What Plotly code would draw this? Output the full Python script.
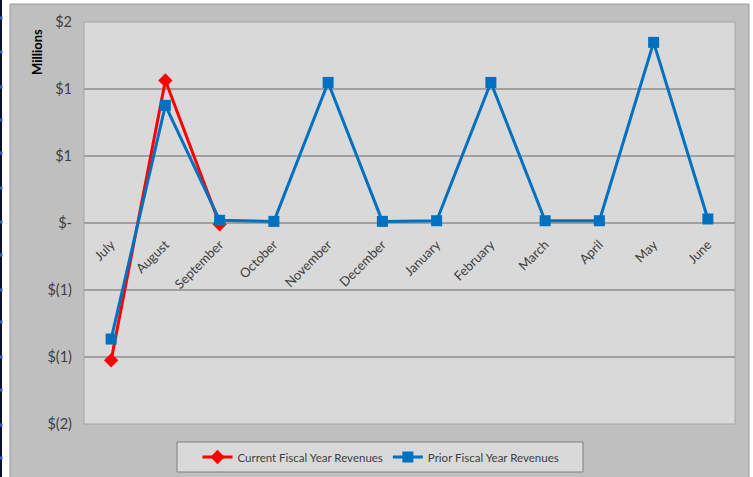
import plotly.graph_objects as go

months = ["July", "August", "September", "October", "November", "December",
          "January", "February", "March", "April", "May", "June"]
current_rev = [-1.025, 1.064, -0.01]
prior_rev = [-0.866, 0.878, 0.02, 0.012, 1.049, 0.012, 0.017, 1.049, 0.017, 0.017, 1.348, 0.03]
y_tickvals = [-1.5, -1.0, -0.5, 0.0, 0.5, 1.0, 1.5]
y_ticktext = ["$(2)", "$(1)", "$(1)", "$-", "$1", "$1", "$2"]

W, H = 753, 477
L, R, T, B = 84, 18, 22, 53
pw, ph = W - L - R, H - T - B

def px(x):
    return (x - L) / pw

def py(y):
    return 1 - (y - T) / ph

FONT = "Lato"
fig = go.Figure()
fig.add_trace(go.Scatter(
    x=months[:len(current_rev)], y=current_rev, mode="lines+markers",
    name="Current Fiscal Year Revenues",
    line=dict(color="#ff0000", width=3),
    marker=dict(symbol="diamond", size=11, color="#ff0000")))
fig.add_trace(go.Scatter(
    x=months, y=prior_rev, mode="lines+markers",
    name="Prior Fiscal Year Revenues",
    line=dict(color="#0070c0", width=3),
    marker=dict(symbol="square", size=11, color="#0070c0")))

shapes = [
    dict(type="rect", xref="paper", yref="paper", x0=px(10), x1=px(749), y0=py(480), y1=py(4),
         fillcolor="#bfbfbf", line=dict(color="#9a9a9a", width=1), layer="below"),
    dict(type="rect", xref="paper", yref="paper", x0=px(0), x1=px(2), y0=py(477), y1=py(0),
         fillcolor="#0a1030", line=dict(width=0), layer="below"),
    dict(type="rect", xref="paper", yref="paper", x0=0, x1=1, y0=0, y1=1,
         fillcolor="#d9d9d9", line=dict(color="#a6a6a6", width=1), layer="below"),
    # legend box
    dict(type="rect", xref="paper", yref="paper", x0=px(177), x1=px(583), y0=py(472), y1=py(442),
         fillcolor="#d9d9d9", line=dict(color="#7f7f7f", width=1), layer="below"),
]
for yy in [18, 52, 87, 120, 153, 188, 222, 255, 290, 322, 357, 390, 425, 458]:
    shapes.append(dict(type="rect", xref="paper", yref="paper", x0=px(0), x1=px(2.5),
                       y0=py(yy + 1.5), y1=py(yy - 1.5), fillcolor="#3060c0",
                       line=dict(width=0), layer="below"))

fig.update_layout(
    width=W, height=H,
    margin=dict(l=L, r=R, t=T, b=B, autoexpand=False),
    paper_bgcolor="white", plot_bgcolor="rgba(0,0,0,0)",
    font=dict(family=FONT, size=12, color="#404040"),
    shapes=shapes,
    showlegend=True,
    legend=dict(orientation="h", x=px(381), xanchor="center", y=py(457), yanchor="middle",
                bgcolor="rgba(0,0,0,0)", borderwidth=0,
                font=dict(family=FONT, size=11.5, color="#404040"),
                itemwidth=30, entrywidth=0),
    xaxis=dict(type="category", range=[-0.5, 11.5], anchor="free", position=0.5,
               automargin=False,
               showgrid=False, zeroline=False, showline=False,
               tickangle=-45, ticks="outside", ticklen=8, tickcolor="rgba(0,0,0,0)",
               tickfont=dict(family=FONT, size=13, color="#404040")),
    yaxis=dict(range=[-1.5, 1.5], tickvals=y_tickvals, ticktext=y_ticktext,
               automargin=False,
               showgrid=True, gridcolor="#a0a0a0", gridwidth=1.5,
               zeroline=True, zerolinecolor="#a0a0a0", zerolinewidth=1.5,
               showline=False, ticks="", ticklabelstandoff=11,
               tickfont=dict(family=FONT, size=14.5, color="#404040")),
    annotations=[dict(text="<b>Millions</b>", xref="paper", yref="paper",
                      x=px(37), y=py(52), xanchor="center", yanchor="middle",
                      textangle=-90, showarrow=False,
                      font=dict(family=FONT, size=13, color="#000000"))],
)
fig.write_html("out.html")
